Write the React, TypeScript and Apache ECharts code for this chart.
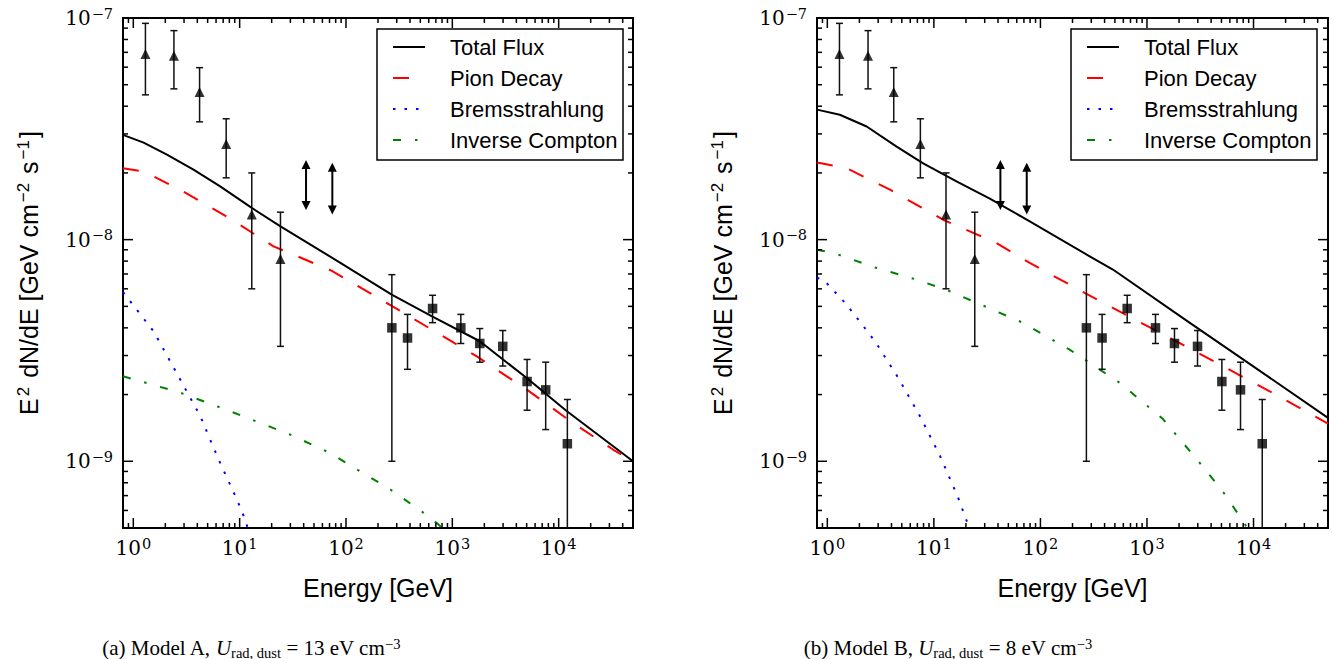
import React, { useEffect, useRef } from "react";
import * as echarts from "echarts";

// ---------- axis ranges & ticks ----------
const X_MIN = 0.8;
const X_MAX = 5e4;
const Y_MIN = 5e-10;
const Y_MAX = 1e-7;

const xMajorTicks = [1, 10, 100, 1000, 10000];
const xMinorTicks = [
  0.8, 0.9, 2, 3, 4, 5, 6, 7, 8, 9, 20, 30, 40, 50, 60, 70, 80, 90, 200, 300, 400, 500, 600, 700, 800, 900,
  2000, 3000, 4000, 5000, 6000, 7000, 8000, 9000, 20000, 30000, 40000, 50000,
];
const yMajorTicks = [1e-9, 1e-8, 1e-7];
const yMinorTicks = [
  6e-10, 7e-10, 8e-10, 9e-10, 2e-9, 3e-9, 4e-9, 5e-9, 6e-9, 7e-9, 8e-9, 9e-9, 2e-8, 3e-8, 4e-8, 5e-8, 6e-8,
  7e-8, 8e-8, 9e-8,
];

const seriesNames = ["Total Flux", "Pion Decay", "Bremsstrahlung", "Inverse Compton"];

// ---------- observational data (same in both panels) ----------
const triE = [1.3, 2.41, 4.2, 7.47, 13.0, 24.2];
const triF = [6.88e-8, 6.75e-8, 4.63e-8, 2.7e-8, 1.3e-8, 8.18e-9];
const triLo = [4.5e-8, 4.79e-8, 3.4e-8, 1.9e-8, 6.0e-9, 3.3e-9];
const triHi = [9.46e-8, 8.77e-8, 5.97e-8, 3.51e-8, 2.0e-8, 1.33e-8];

const arrowE = [42.1, 74.4];
const arrowBottom = [1.36e-8, 1.3e-8];
const arrowTop = [2.29e-8, 2.22e-8];

const sqE = [270, 379, 652, 1202, 1812, 2981, 5046, 7550, 12070];
const sqF = [4.0e-9, 3.6e-9, 4.89e-9, 4.0e-9, 3.4e-9, 3.3e-9, 2.29e-9, 2.1e-9, 1.2e-9];
const sqLo = [1.0e-9, 2.6e-9, 4.22e-9, 3.4e-9, 2.8e-9, 2.69e-9, 1.7e-9, 1.39e-9, 1e-12];
const sqHi = [6.95e-9, 4.6e-9, 5.61e-9, 4.6e-9, 3.97e-9, 3.89e-9, 2.88e-9, 2.8e-9, 1.9e-9];

// ---------- Model A curves ----------
const aTotalE = [0.8, 1.25, 2.07, 3.68, 6.56, 13.0, 24.0, 87.8, 269, 638, 1812, 4977, 11800, 50000];
const aTotalF = [2.97e-8, 2.74e-8, 2.42e-8, 2.07e-8, 1.74e-8, 1.39e-8, 1.15e-8, 7.88e-9, 5.65e-9, 4.52e-9, 3.48e-9, 2.38e-9, 1.69e-9, 1.0e-9];
const aPionE = [0.8, 1.25, 2.76, 7.59, 20.8, 73, 371, 1686, 4977, 13600, 32400, 50000];
const aPionF = [2.1e-8, 2.03e-8, 1.68e-8, 1.27e-8, 9.33e-9, 7.25e-9, 4.59e-9, 2.98e-9, 2.11e-9, 1.49e-9, 1.13e-9, 1.0e-9];
const aBremE = [0.8, 1.55, 2.76, 4.26, 6.33, 9.41, 11.3, 11.9];
const aBremF = [5.8e-9, 3.86e-9, 2.34e-9, 1.6e-9, 1.02e-9, 6.74e-10, 5.44e-10, 5.0e-10];
const aIcE = [0.8, 2.76, 8.75, 29.8, 70.8, 126, 259, 532, 736, 800];
const aIcF = [2.42e-9, 2.04e-9, 1.66e-9, 1.32e-9, 1.09e-9, 9.2e-10, 7.48e-10, 5.87e-10, 5.2e-10, 5.0e-10];

// ---------- Model B curves ----------
const bTotalE = [0.8, 1.31, 2.34, 4.47, 7.94, 16.3, 33.5, 79.4, 290, 479, 2506, 6870, 50000];
const bTotalF = [3.86e-8, 3.66e-8, 3.24e-8, 2.63e-8, 2.21e-8, 1.83e-8, 1.53e-8, 1.21e-8, 8.41e-9, 7.33e-9, 4.22e-9, 3.03e-9, 1.57e-9];
const bPionE = [0.8, 1.52, 3.87, 12.2, 38.7, 79.4, 386, 1883, 12200, 50000];
const bPionF = [2.23e-8, 2.1e-8, 1.68e-8, 1.23e-8, 9.66e-9, 7.85e-9, 5.19e-9, 3.48e-9, 2.15e-9, 1.48e-9];
const bBremE = [0.8, 0.95, 1.52, 2.8, 4.63, 7.39, 11.4, 16.9, 21.5];
const bBremF = [6.75e-9, 6.49e-9, 5.09e-9, 3.48e-9, 2.38e-9, 1.6e-9, 1.06e-9, 6.85e-10, 5.0e-10];
const bIcE = [0.8, 1.14, 2.9, 6.89, 14.1, 66, 188, 555, 1413, 3113, 5534, 8750];
const bIcF = [9.0e-9, 8.71e-9, 7.45e-9, 6.6e-9, 5.85e-9, 4.25e-9, 3.19e-9, 2.26e-9, 1.55e-9, 9.87e-10, 6.98e-10, 5.0e-10];

const captions = [
  "(a) Model A, {it|U}{sub|rad, dust} = 13 eV cm{sup|−3}",
  "(b) Model B, {it|U}{sub|rad, dust} = 8 eV cm{sup|−3}",
];

// ---------- layout ----------
const GRIDS = [
  { left: 123, top: 18, width: 510, height: 510 },
  { left: 817, top: 18, width: 511, height: 510 },
];
const CAPTION_X = [251, 948];
const LEGEND_BOX = [
  { x: 377, y: 29, w: 246, h: 131 },
  { x: 1071, y: 29, w: 246, h: 131 },
];

const SANS = "Liberation Sans";
const SERIF = "Liberation Serif";
const TICK_SERIF = "DejaVu Serif";

const lineStyles: Record<string, any> = {
  "Total Flux": { color: "#000000", type: "solid" },
  "Pion Decay": { color: "#ff0000", type: [16, 17] },
  Bremsstrahlung: { color: "#0000ff", type: [2.5, 9] },
  "Inverse Compton": { color: "#008000", type: [8, 14, 2.5, 14] },
};

function tickFormatter(v: number) {
  const l = Math.log10(v);
  const e = Math.round(l);
  if (Math.abs(l - e) > 1e-6) return "";
  return `{b|10}{s|${e < 0 ? "−" : ""}${Math.abs(e)}}`;
}

const tickRich = {
  b: { fontFamily: TICK_SERIF, fontSize: 20, lineHeight: 24, color: "#000" },
  s: { fontFamily: TICK_SERIF, fontSize: 14.5, lineHeight: 10, verticalAlign: "top", color: "#000", padding: [0, 0, 0, 1] },
};

function buildOption() {
  const series: any[] = [];
  const models = [
    [
      [aTotalE, aTotalF],
      [aPionE, aPionF],
      [aBremE, aBremF],
      [aIcE, aIcF],
    ],
    [
      [bTotalE, bTotalF],
      [bPionE, bPionF],
      [bBremE, bBremF],
      [bIcE, bIcF],
    ],
  ];

  const tickList: { v: number; axis: "x" | "y"; major: boolean }[] = [
    ...xMajorTicks.map((v) => ({ v, axis: "x" as const, major: true })),
    ...xMinorTicks.map((v) => ({ v, axis: "x" as const, major: false })),
    ...yMajorTicks.map((v) => ({ v, axis: "y" as const, major: true })),
    ...yMinorTicks.map((v) => ({ v, axis: "y" as const, major: false })),
  ];

  for (let g = 0; g < 2; g++) {
    // model curves
    models[g].forEach(([E, F], k) => {
      const name = seriesNames[k];
      const st = lineStyles[name];
      series.push({
        type: "line",
        name,
        xAxisIndex: g,
        yAxisIndex: g,
        data: (E as number[]).map((e, i) => [e, (F as number[])[i]]),
        showSymbol: false,
        symbol: "none",
        smooth: false,
        silent: true,
        z: 3,
        lineStyle: { color: st.color, width: 2, type: st.type, cap: "butt", join: "round" },
        itemStyle: { color: st.color },
      });
    });

    // error bars
    const errSeries = (E: number[], F: number[], lo: number[], hi: number[]) => ({
      type: "custom",
      xAxisIndex: g,
      yAxisIndex: g,
      clip: true,
      silent: true,
      z: 4,
      encode: { x: 0, y: 1 },
      data: E.map((e, i) => [e, F[i], lo[i], hi[i]]),
      renderItem: (params: any, api: any) => {
        const x = api.value(0);
        const a = api.coord([x, api.value(2)]);
        const b = api.coord([x, api.value(3)]);
        const st = { stroke: "#111", lineWidth: 1.5 };
        return {
          type: "group",
          children: [
            { type: "line", shape: { x1: a[0], y1: a[1], x2: b[0], y2: b[1] }, style: st },
            { type: "line", shape: { x1: a[0] - 3.5, y1: a[1], x2: a[0] + 3.5, y2: a[1] }, style: st },
            { type: "line", shape: { x1: b[0] - 3.5, y1: b[1], x2: b[0] + 3.5, y2: b[1] }, style: st },
          ],
        };
      },
    });
    series.push(errSeries(triE, triF, triLo, triHi));
    series.push(errSeries(sqE, sqF, sqLo, sqHi));

    // markers
    series.push({
      type: "scatter",
      xAxisIndex: g,
      yAxisIndex: g,
      symbol: "triangle",
      symbolSize: [10, 10],
      silent: true,
      z: 5,
      itemStyle: { color: "#000" },
      data: triE.map((e, i) => [e, triF[i]]),
    });
    series.push({
      type: "scatter",
      xAxisIndex: g,
      yAxisIndex: g,
      symbol: "rect",
      symbolSize: 9.5,
      silent: true,
      z: 5,
      itemStyle: { color: "#000" },
      data: sqE.map((e, i) => [e, sqF[i]]),
    });

    // double arrows
    series.push({
      type: "custom",
      xAxisIndex: g,
      yAxisIndex: g,
      silent: true,
      z: 5,
      encode: { x: 0, y: 1 },
      data: arrowE.map((e, i) => [e, arrowBottom[i], arrowTop[i]]),
      renderItem: (params: any, api: any) => {
        const x = api.value(0);
        const a = api.coord([x, api.value(1)]);
        const b = api.coord([x, api.value(2)]);
        const h = 9;
        const w = 4.5;
        return {
          type: "group",
          children: [
            { type: "line", shape: { x1: a[0], y1: a[1] - h + 1, x2: b[0], y2: b[1] + h - 1 }, style: { stroke: "#000", lineWidth: 2 } },
            { type: "polygon", shape: { points: [[b[0], b[1]], [b[0] - w, b[1] + h], [b[0] + w, b[1] + h]] }, style: { fill: "#000" } },
            { type: "polygon", shape: { points: [[a[0], a[1]], [a[0] - w, a[1] - h], [a[0] + w, a[1] - h]] }, style: { fill: "#000" } },
          ],
        };
      },
    });

    // inside ticks on all four sides
    series.push({
      type: "custom",
      xAxisIndex: g,
      yAxisIndex: g,
      silent: true,
      clip: false,
      z: 6,
      encode: { x: 0, y: 1 },
      data: tickList.map((t) => (t.axis === "x" ? [t.v, Y_MIN] : [X_MIN, t.v])),
      renderItem: (params: any, api: any) => {
        const t = tickList[params.dataIndex];
        const len = t.major ? 10 : 5;
        const st = { stroke: "#000", lineWidth: 1.5 };
        if (t.axis === "x") {
          const p = api.coord([t.v, Y_MIN]);
          const q = api.coord([t.v, Y_MAX]);
          return {
            type: "group",
            children: [
              { type: "line", shape: { x1: p[0], y1: p[1], x2: p[0], y2: p[1] - len }, style: st },
              { type: "line", shape: { x1: q[0], y1: q[1], x2: q[0], y2: q[1] + len }, style: st },
            ],
          };
        }
        const p = api.coord([X_MIN, t.v]);
        const q = api.coord([X_MAX, t.v]);
        return {
          type: "group",
          children: [
            { type: "line", shape: { x1: p[0], y1: p[1], x2: p[0] + len, y2: p[1] }, style: st },
            { type: "line", shape: { x1: q[0], y1: q[1], x2: q[0] - len, y2: q[1] }, style: st },
          ],
        };
      },
    });
  }

  const nameRich = {
    sup: { fontFamily: SANS, fontSize: 17, lineHeight: 14, verticalAlign: "top", color: "#000", padding: [0, 2, 0, 2] },
  };

  return {
    animation: false,
    backgroundColor: "#ffffff",
    grid: GRIDS.map((g) => ({
      ...g,
      show: true,
      borderColor: "#000",
      borderWidth: 2,
      backgroundColor: "transparent",
      containLabel: false,
    })),
    xAxis: GRIDS.map((_, i) => ({
      type: "log",
      logBase: 10,
      gridIndex: i,
      min: X_MIN,
      max: X_MAX,
      axisLine: { show: false },
      axisTick: { show: false },
      splitLine: { show: false },
      minorTick: { show: false },
      axisLabel: { formatter: tickFormatter, rich: tickRich, margin: 8, color: "#000" },
      name: "Energy [GeV]",
      nameLocation: "middle",
      nameGap: 46,
      nameTextStyle: { fontFamily: SANS, fontSize: 25, color: "#000", lineHeight: 28 },
    })),
    yAxis: GRIDS.map((_, i) => ({
      type: "log",
      logBase: 10,
      gridIndex: i,
      min: Y_MIN,
      max: Y_MAX,
      axisLine: { show: false },
      axisTick: { show: false },
      splitLine: { show: false },
      minorTick: { show: false },
      axisLabel: { formatter: tickFormatter, rich: tickRich, margin: 10, color: "#000" },
      name: "E{sup|2} dN/dE [GeV cm{sup|−2} s{sup|−1}]",
      nameLocation: "middle",
      nameGap: 80,
      nameTextStyle: { fontFamily: SANS, fontSize: 25, color: "#000", lineHeight: 28, rich: nameRich },
    })),
    legend: LEGEND_BOX.map((b) => ({
      data: seriesNames,
      orient: "vertical",
      left: b.x,
      top: b.y,
      padding: [7, 10, 10, 15],
      itemWidth: 32,
      itemHeight: 12,
      itemGap: 9,
      selectedMode: false,
      z: 10,
      itemStyle: { opacity: 0 },
      textStyle: { fontFamily: SANS, fontSize: 22, color: "#000", lineHeight: 22, padding: [0, 0, 0, 20] },
    })),
    graphic: LEGEND_BOX.map((b) => ({
      type: "rect",
      z: 8,
      silent: true,
      shape: { x: b.x, y: b.y, width: b.w, height: b.h },
      style: { fill: "#fff", stroke: "#000", lineWidth: 1.5 },
    })),
    title: captions.map((c, i) => ({
      text: c,
      left: CAPTION_X[i],
      top: 636,
      textAlign: "center",
      padding: 0,
      textStyle: {
        fontFamily: SERIF,
        fontSize: 21,
        fontWeight: "normal",
        color: "#000",
        lineHeight: 24,
        rich: {
          it: { fontFamily: SERIF, fontSize: 21, fontStyle: "italic", color: "#000", lineHeight: 24 },
          sub: { fontFamily: SERIF, fontSize: 14.5, color: "#000", lineHeight: 12, verticalAlign: "bottom" },
          sup: { fontFamily: SERIF, fontSize: 14.5, color: "#000", lineHeight: 12, verticalAlign: "top" },
        },
      },
    })),
    series,
  };
}

export default function App() {
  const ref = useRef<HTMLDivElement>(null);
  useEffect(() => {
    if (!ref.current) return;
    const chart = echarts.init(ref.current, undefined, { renderer: "svg" });
    chart.setOption(buildOption() as any);
    return () => chart.dispose();
  }, []);
  return (
    <div
      ref={ref}
      style={{ position: "fixed", left: 0, top: 0, width: 1332, height: 659, background: "#fff" }}
    />
  );
}
